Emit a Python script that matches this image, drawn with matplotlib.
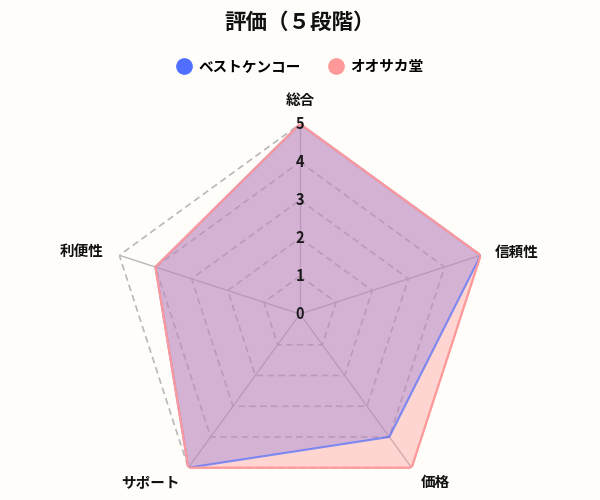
import numpy as np
import matplotlib
matplotlib.use("Agg")
import matplotlib.pyplot as plt
from matplotlib.lines import Line2D

plt.rcParams['font.family'] = ['Noto Sans CJK JP', 'DejaVu Sans']

categories = ['総合', '信頼性', '価格', 'サポート', '利便性']
series_names = ['ベストケンコー', 'オオサカ堂']
best_kenko = [5, 5, 4, 5, 4]
osaka_do = [5, 5, 5, 5, 4]
levels = [1, 2, 3, 4, 5]
tick_labels = ['0', '1', '2', '3', '4', '5']

bg = '#fffdf9'
blue = '#506eff'
pink = '#ff9999'
grid_col = '#b8b8b8'

fig = plt.figure(figsize=(6, 5), dpi=100, facecolor=bg)
# center (300, 314) px, radius 190 px
ax = fig.add_axes([110 / 600, (186 - 190) / 500, 380 / 600, 380 / 500], projection='polar')
ax.set_facecolor('none')
ax.set_theta_offset(np.pi / 2)
ax.set_theta_direction(-1)
ax.set_ylim(0, 5)
ax.grid(False)
ax.set_xticks([])
ax.set_yticks([])
ax.spines['polar'].set_visible(False)

n = len(categories)
angles = np.linspace(0, 2 * np.pi, n, endpoint=False)
closed = np.append(angles, angles[0])

# grid: dashed rings and solid spokes
for lv in levels:
    ax.plot(closed, [lv] * (n + 1), color=grid_col, lw=1.2, dashes=(4, 2.5), zorder=1)
for a in angles:
    ax.plot([a, a], [0, 5], color=grid_col, lw=1.0, zorder=1)

# data
vals_b = best_kenko + best_kenko[:1]
vals_p = osaka_do + osaka_do[:1]
ax.fill(closed, vals_b, color=blue, alpha=0.4, lw=0, zorder=2)
ax.fill(closed, vals_p, color=pink, alpha=0.4, lw=0, zorder=2)
ax.plot(closed, vals_b, color=blue, alpha=0.7, lw=1.5, zorder=3)
ax.plot(closed, vals_p, color=pink, lw=1.6, zorder=3)

# radial tick labels along the top spoke
for i, t in enumerate(tick_labels):
    ax.text(0, i, t, ha='center', va='center', fontsize=10.5, fontweight='bold',
            color='#1a1a1a', zorder=5)

# category labels
offsets = [(0, 24, 'center'), (14, 3, 'left'), (9, -14, 'left'),
           (-9, -14, 'right'), (-16, 4, 'right')]
for a, lab, (dx, dy, ha) in zip(angles, categories, offsets):
    ax.annotate(lab, xy=(a, 5), xytext=(dx, dy), textcoords='offset pixels',
                ha=ha, va='center', fontsize=10.5, fontweight='bold', color='#111111',
                annotation_clip=False)

fig.text(0.5, 1 - 22 / 500, '評価（５段階）', ha='center', va='center',
         fontsize=15.5, fontweight='bold', color='#111111')

handles = [Line2D([], [], ls='', marker='o', markersize=11, color=blue),
           Line2D([], [], ls='', marker='o', markersize=11, color=pink)]
leg = fig.legend(handles, series_names, loc='center', bbox_to_anchor=(0.5, 1 - 66 / 500),
                 ncol=2, frameon=False, handlelength=1.0, handletextpad=0.5,
                 columnspacing=1.9, prop={'size': 10.5, 'weight': 'bold'})

fig.savefig('out.png', dpi=100, facecolor=bg)
